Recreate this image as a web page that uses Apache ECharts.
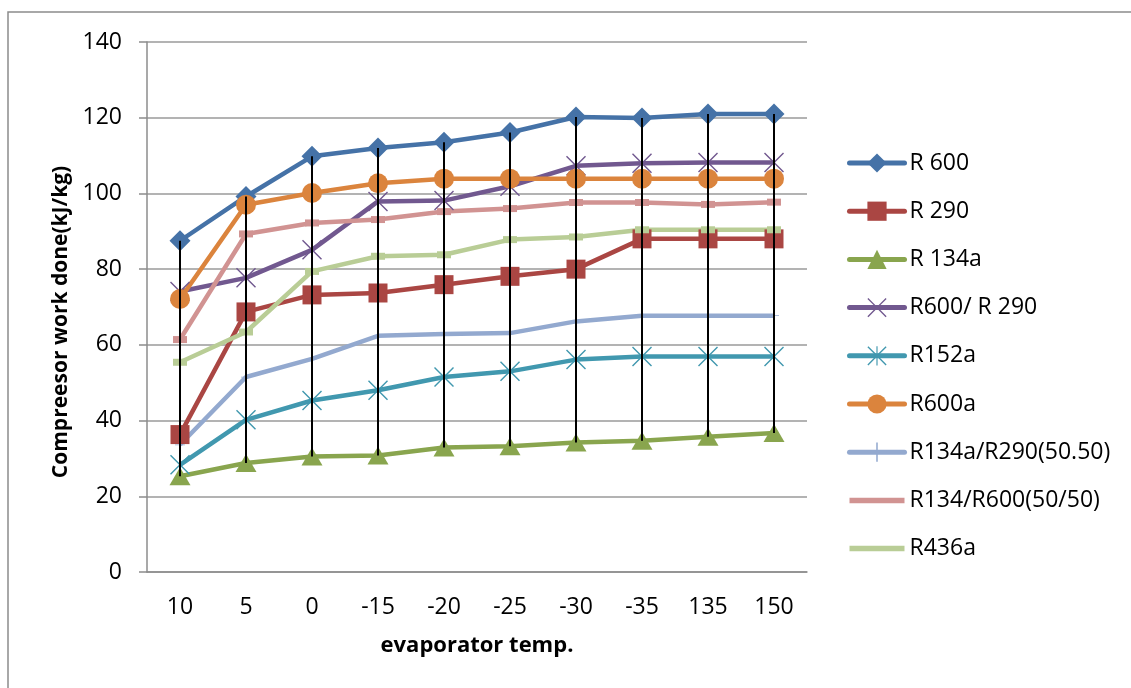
<!DOCTYPE html>
<html>
<head>
<meta charset="utf-8">
<script src="https://cdn.jsdelivr.net/npm/echarts@6/dist/echarts.min.js"></script>
<style>
  html, body { margin: 0; padding: 0; background: #fff; }
  #chart { width: 1131px; height: 688px; }
</style>
</head>
<body>
<div id="chart"></div>
<script>
const temps = ['10', '5', '0', '-15', '-20', '-25', '-30', '-35', '135', '150']

const r600 = [87.5, 99.2, 109.8, 112.0, 113.5, 116.1, 120.2, 119.9, 121.0, 121.0]
const r290 = [36.3, 68.7, 73.2, 73.7, 75.9, 78.1, 80.0, 88.0, 88.0, 88.0]
const r134a = [25.3, 28.8, 30.5, 30.8, 32.9, 33.2, 34.2, 34.7, 35.7, 36.7]
const r600r290 = [74.1, 77.7, 85.1, 97.9, 98.1, 101.9, 107.3, 108.0, 108.2, 108.2]
const r152a = [28.3, 40.2, 45.3, 48.0, 51.5, 53.0, 56.1, 56.9, 56.9, 56.9]
const r600a = [72.1, 97.0, 100.1, 102.7, 103.9, 103.9, 103.9, 103.9, 103.9, 103.9]
const r134aR290 = [33.6, 51.5, 56.3, 62.4, 62.9, 63.1, 66.2, 67.7, 67.7, 67.7]
const r134R600 = [61.4, 89.3, 92.2, 93.1, 95.2, 96.0, 97.6, 97.6, 97.1, 97.7]
const r436a = [55.4, 63.4, 79.4, 83.4, 83.8, 87.8, 88.5, 90.4, 90.4, 90.4]

const yTicks = { min: 0, max: 140, interval: 20 }

// marker shapes (Excel style x, asterisk, plus)
const xMark = 'path://M0,5 L5,0 L50,45 L95,0 L100,5 L55,50 L100,95 L95,100 L50,55 L5,100 L0,95 L45,50 Z'
const starMark = xMark + ' M47,0 L53,0 L53,100 L47,100 Z'
const plusMark = 'path://M46,0 L54,0 L54,46 L100,46 L100,54 L54,54 L54,100 L46,100 L46,54 L0,54 L0,46 L46,46 Z'
const barIcon = 'path://M0,0 L100,0 L100,10 L0,10 Z'

const seriesDefs = [
  { name: 'R 600', data: r600, color: '#4572A7', symbol: 'diamond', size: 21 },
  { name: 'R 290', data: r290, color: '#AA4643', symbol: 'rect', size: 19 },
  { name: 'R 134a', data: r134a, color: '#89A54E', symbol: 'triangle', size: [21, 18] },
  { name: 'R600/ R 290', data: r600r290, color: '#71588F', symbol: xMark, size: 20 },
  { name: 'R152a', data: r152a, color: '#4198AF', symbol: starMark, size: 20 },
  { name: 'R600a', data: r600a, color: '#DB843D', symbol: 'circle', size: 20 },
  { name: 'R134a/R290(50.50)', data: r134aR290, color: '#93A9CF', symbol: plusMark, size: 10 },
  { name: 'R134/R600(50/50)', data: r134R600, color: '#D19392', symbol: 'rect', size: [14, 7], icon: barIcon },
  { name: 'R436a', data: r436a, color: '#B9CD96', symbol: 'rect', size: [14, 7], icon: barIcon },
]

const all = seriesDefs.map(s => s.data)
const hiLow = temps.map((t, i) => [i, Math.min(...all.map(d => d[i])), Math.max(...all.map(d => d[i]))])

const chart = echarts.init(document.getElementById('chart'))
const font = '"Open Sans", "Liberation Sans", sans-serif'

const option = {
  animation: false,
  backgroundColor: '#fff',
  textStyle: { fontFamily: font },
  graphic: [
    {
      type: 'rect',
      shape: { x: 8, y: 12, width: 1300, height: 900 },
      style: { fill: 'none', stroke: '#8c8c8c', lineWidth: 1.5 },
      silent: true,
    },
  ],
  grid: { left: 147, right: 324, top: 42, bottom: 116 },
  legend: {
    orient: 'vertical',
    left: 847,
    top: 151,
    padding: 0,
    itemWidth: 55,
    itemHeight: 24,
    itemGap: 24.2,
    lineStyle: { width: 5, cap: 'round' },
    textStyle: { color: '#000', fontSize: 23, fontFamily: font, lineHeight: 24 },
    data: seriesDefs.map(s => (s.icon ? { name: s.name, icon: s.icon } : { name: s.name })),
  },
  xAxis: {
    type: 'category',
    data: temps,
    name: 'evaporator temp.',
    nameLocation: 'middle',
    nameGap: 63,
    nameTextStyle: { color: '#000', fontSize: 22, fontWeight: 'bold', fontFamily: font },
    axisLine: { lineStyle: { color: '#8c8c8c', width: 1.5 } },
    axisTick: { show: false },
    axisLabel: { color: '#000', fontSize: 23, margin: 24, fontFamily: font },
  },
  yAxis: {
    type: 'value',
    min: yTicks.min,
    max: yTicks.max,
    interval: yTicks.interval,
    name: 'Compreesor work done(kJ/kg)',
    nameLocation: 'middle',
    nameGap: 75,
    nameTextStyle: { color: '#000', fontSize: 21, fontWeight: 'bold', fontFamily: font, padding: [0, 30, 0, 0] },
    axisLine: { show: true, lineStyle: { color: '#8c8c8c', width: 1.5 } },
    axisTick: { show: true, length: 8, lineStyle: { color: '#8c8c8c', width: 1.5 } },
    axisLabel: { color: '#000', fontSize: 23, margin: 25, fontFamily: font },
    splitLine: { lineStyle: { color: '#9a9a9a', width: 1.5 } },
  },
  series: [
    ...seriesDefs.map(s => ({
      name: s.name,
      type: 'line',
      data: s.data,
      symbol: s.symbol,
      symbolSize: s.size,
      showAllSymbol: true,
      lineStyle: { color: s.color, width: 4.5 },
      itemStyle: { color: s.color },
      emphasis: { disabled: true },
    })),
    {
      name: 'high-low',
      type: 'custom',
      z: 10,
      silent: true,
      data: hiLow,
      encode: { x: 0, y: [1, 2] },
      renderItem(params, api) {
        const top = api.coord([api.value(0), api.value(2)])
        const bot = api.coord([api.value(0), api.value(1)])
        return {
          type: 'line',
          shape: { x1: top[0], y1: top[1], x2: bot[0], y2: bot[1] },
          style: { stroke: '#000', lineWidth: 2 },
        }
      },
    },
  ],
}

chart.setOption(option)
</script>
</body>
</html>
